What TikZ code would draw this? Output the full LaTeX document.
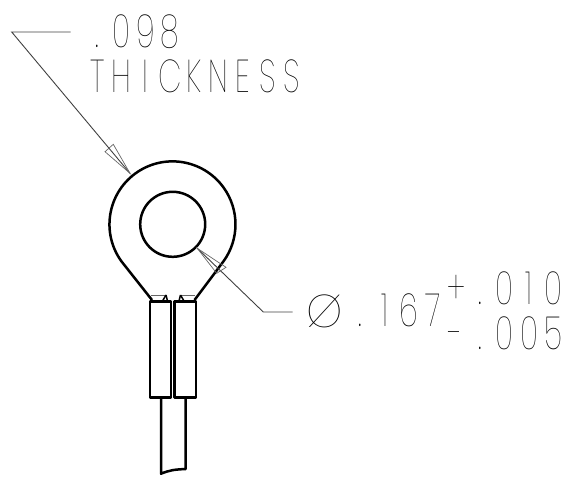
\documentclass[tikz,border=0pt]{standalone}
\usepackage{fontspec}
\usepackage{graphicx}
\setmainfont{Poppins}[UprightFont=* Thin]
\newcommand{\pc}[1]{\makebox[24.3pt][c]{\scalebox{0.66}[1]{#1}}}
\tikzset{
  part/.style={draw=black,line width=2.5pt,line join=round},
  thin leader/.style={draw=black!75,line width=0.9pt},
  tiny/.style={draw=black!60,line width=0.7pt},
  tick/.style={draw=black,line width=1.5pt},
  lbl/.style={inner sep=0pt,outer sep=0pt,anchor=base west,font=\fontsize{46}{46}\selectfont},
}
\begin{document}
\begin{tikzpicture}[x=1pt,y=-1pt]
\useasboundingbox (0,0) rectangle (585,477);
% lug
\draw[part] (152,300) -- (121.5,261.4) arc[start angle=144,end angle=396,radius=63] -- (194.5,300);
\draw[part] (172.7,224.3) circle[radius=32.5];
% barrels
\draw[part] (150,301.7) rectangle (171,397.3);
\draw[part] (174.6,301.7) rectangle (196,397.3);
\draw[part] (161,397.3) -- (161,473.7) .. controls (170,470) and (175,469.5) .. (185.7,469) -- (185.7,397.3);
% crimp details
\draw[tiny] (151,295) -- (166,295);
\draw[tiny] (180.5,295) -- (195,295);
\draw[tick] (166,295) -- (162.5,301);
\draw[tick] (166,295) -- (167.5,301);
\draw[tick] (180.5,295) -- (184,301);
\draw[tick] (180.5,295) -- (179,301);
% leaders
\coordinate (a0) at (70.7,32);
\coordinate (a1) at (11.7,32);
\coordinate (a2) at (130,173.3);
\coordinate (ab1) at (105,151.7);
\coordinate (ab2) at (113.3,144.3);
\draw[thin leader] (a0) -- (a1) -- (a2);
\draw[tiny] (a2) -- (ab1) -- (ab2) -- cycle;
\coordinate (b0) at (292.7,312);
\coordinate (b1) at (263.3,312);
\coordinate (b2) at (197.3,248.3);
\coordinate (bb1) at (216.7,273.3);
\coordinate (bb2) at (226,267.3);
\draw[thin leader] (b0) -- (b1) -- (b2);
\draw[tiny] (b2) -- (bb1) -- (bb2) -- cycle;
% text
\node[lbl] (t1) at (85,47) {\pc{.}\pc{0}\pc{9}\pc{8}};
\node[lbl] (t2) at (85,92) {\pc{T}\pc{H}\pc{I}\pc{C}\pc{K}\pc{N}\pc{E}\pc{S}\pc{S}};
\node[lbl] (t3) at (306,327) {Ø};
\node[lbl] (t4) at (348,326.7) {\pc{.}\pc{1}\pc{6}\pc{7}};
\node[lbl] (t5) at (444,304.7) {\pc{+}\pc{.}\pc{0}\pc{1}\pc{0}};
\node[lbl] (t6) at (444,349) {\pc{-}\pc{.}\pc{0}\pc{0}\pc{5}};
\end{tikzpicture}
\end{document}
